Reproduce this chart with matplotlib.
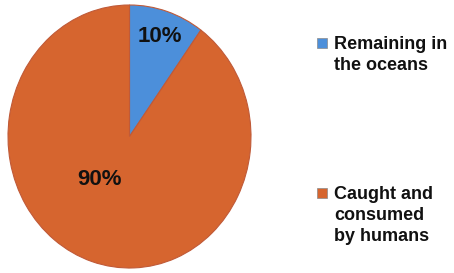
import matplotlib.pyplot as plt
from matplotlib.patches import Rectangle

# Datos
labels = ["Remaining in\nthe oceans", "Caught and\nconsumed\nby humans"]
shares = [10, 90]
colors = ["#4C8FDA", "#D6652F"]

plt.rcParams['font.family'] = ['Liberation Sans', 'DejaVu Sans']

fig = plt.figure(figsize=(4.54, 2.73), dpi=100)
W, H = 454, 273

# Ejes del pastel (ligeramente elíptico como en el original)
ax = fig.add_axes([8 / W, 5 / H, 243 / W, 263 / H])
wedges, texts, autotexts = ax.pie(
    shares, colors=colors, startangle=90, counterclock=False,
    autopct="%d%%", pctdistance=0.8,
    wedgeprops=dict(edgecolor="#C05A38", linewidth=0.8),
    textprops=dict(fontsize=16, fontweight="bold", color="#111111"))
ax.set_aspect("auto")
ax.set_xlim(-1.0, 1.0)
ax.set_ylim(-1.0, 1.0)

# La etiqueta del 90% no está sobre el ángulo medio
autotexts[1].set_position((-0.25, -0.33))

# Leyenda manual
legend_tops = [36, 186]
for lab, col, top in zip(labels, colors, legend_tops):
    fig.patches.append(Rectangle((317 / W, 1 - (top + 12) / H), 10 / W, 10 / H,
                                 transform=fig.transFigure, facecolor=col,
                                 edgecolor="#8a8a8a", linewidth=0.5))
    fig.text(334 / W, 1 - top / H, lab, fontsize=13, fontweight="bold",
             color="#111111", va="top", ha="left", linespacing=1.32)

fig.savefig("out.png", dpi=100, facecolor="white")
